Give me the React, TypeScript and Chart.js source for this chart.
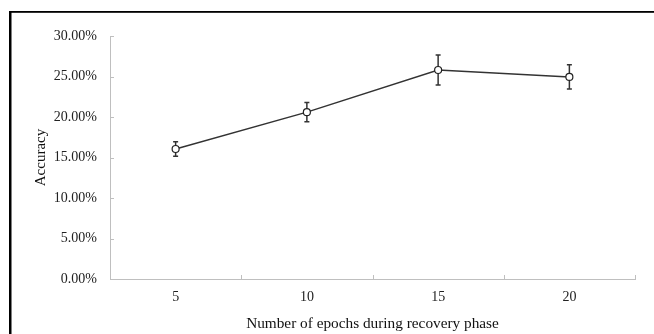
import React, { useEffect, useRef } from "react";
import { Chart, registerables } from "chart.js";

Chart.register(...registerables);

const categories = ["5", "10", "15", "20"];
const accuracy = [16.05, 20.6, 25.8, 24.95];
const errors = [0.9, 1.2, 1.85, 1.5];
const yTicks = [0, 5, 10, 15, 20, 25, 30];

const FONT = "'Liberation Serif', 'Times New Roman', serif";

const framePlugin = {
  id: "frame",
  beforeDraw(chart: any) {
    const ctx = chart.ctx;
    ctx.save();
    ctx.fillStyle = "#ffffff";
    ctx.fillRect(0, 0, chart.width, chart.height);
    ctx.fillStyle = "#000000";
    ctx.fillRect(9, 11, 2.5, chart.height - 11);
    ctx.fillRect(9, 11, chart.width - 9, 1.8);
    ctx.restore();
  },
};

const ticksPlugin = {
  id: "innerTicks",
  afterDraw(chart: any) {
    const ctx = chart.ctx;
    const xs = chart.scales.x;
    const ys = chart.scales.y;
    const area = chart.chartArea;
    ctx.save();
    ctx.strokeStyle = "#bfbfbf";
    ctx.lineWidth = 1;
    ctx.beginPath();
    yTicks.forEach((v) => {
      const y = Math.round(ys.getPixelForValue(v)) + 0.5;
      ctx.moveTo(area.left, y);
      ctx.lineTo(area.left + 4, y);
    });
    const n = categories.length;
    const bounds: number[] = [area.left];
    for (let i = 0; i < n - 1; i++) {
      bounds.push((xs.getPixelForValue(i) + xs.getPixelForValue(i + 1)) / 2);
    }
    bounds.push(area.right);
    bounds.forEach((bx) => {
      const x = Math.round(bx) + 0.5;
      ctx.moveTo(x, area.bottom);
      ctx.lineTo(x, area.bottom - 4);
    });
    ctx.stroke();
    ctx.restore();
  },
};

const errorBarPlugin = {
  id: "errorBars",
  beforeDatasetsDraw(chart: any) {
    const ctx = chart.ctx;
    const xs = chart.scales.x;
    const ys = chart.scales.y;
    ctx.save();
    ctx.strokeStyle = "#333333";
    ctx.lineWidth = 1.5;
    accuracy.forEach((v, i) => {
      const x = xs.getPixelForValue(i);
      const yTop = ys.getPixelForValue(v + errors[i]);
      const yBot = ys.getPixelForValue(v - errors[i]);
      ctx.beginPath();
      ctx.moveTo(x, yTop);
      ctx.lineTo(x, yBot);
      ctx.moveTo(x - 2.5, yTop);
      ctx.lineTo(x + 2.5, yTop);
      ctx.moveTo(x - 2.5, yBot);
      ctx.lineTo(x + 2.5, yBot);
      ctx.stroke();
    });
    ctx.restore();
  },
};

export default function App() {
  const canvasRef = useRef<HTMLCanvasElement | null>(null);

  useEffect(() => {
    if (!canvasRef.current) return;
    const chart = new Chart(canvasRef.current, {
      type: "line",
      data: {
        labels: categories,
        datasets: [
          {
            data: accuracy,
            borderColor: "#333333",
            borderWidth: 1.5,
            pointRadius: 3.5,
            pointBackgroundColor: "#ffffff",
            pointBorderColor: "#222222",
            pointBorderWidth: 1.2,
            tension: 0,
            fill: false,
          },
        ],
      },
      options: {
        responsive: false,
        animation: false,
        events: [],
        layout: { padding: { top: 36, right: 19, left: 0, bottom: 0 } },
        plugins: {
          legend: { display: false },
          tooltip: { enabled: false },
        },
        scales: {
          x: {
            type: "category",
            offset: true,
            grid: { display: false, drawTicks: false },
            border: { display: true, color: "#bfbfbf", width: 1 },
            ticks: {
              color: "#222222",
              font: { family: FONT, size: 14 },
              padding: 10,
              maxRotation: 0,
            },
            title: {
              display: true,
              text: "Number of epochs during recovery phase",
              color: "#111111",
              font: { family: FONT, size: 15.3 },
              padding: { top: 0, bottom: 1 },
            },
            afterFit(scale: any) {
              scale.height = 55;
            },
          },
          y: {
            min: 0,
            max: 30,
            grid: { display: false, drawTicks: false },
            border: { display: true, color: "#bfbfbf", width: 1 },
            ticks: {
              stepSize: 5,
              color: "#222222",
              font: { family: FONT, size: 14 },
              padding: 13,
              callback: (v: any) => Number(v).toFixed(2) + "%",
            },
            title: {
              display: true,
              text: "Accuracy",
              color: "#111111",
              font: { family: FONT, size: 15 },
              padding: { top: 32, bottom: 0 },
            },
            afterFit(scale: any) {
              scale.width = 110;
            },
          },
        },
      },
      plugins: [framePlugin, errorBarPlugin, ticksPlugin],
    });
    return () => chart.destroy();
  }, []);

  return (
    <div style={{ position: "fixed", left: 0, top: 0, width: 654, height: 334, background: "#fff" }}>
      <canvas ref={canvasRef} width={654} height={334} style={{ display: "block", width: 654, height: 334 }} />
    </div>
  );
}
